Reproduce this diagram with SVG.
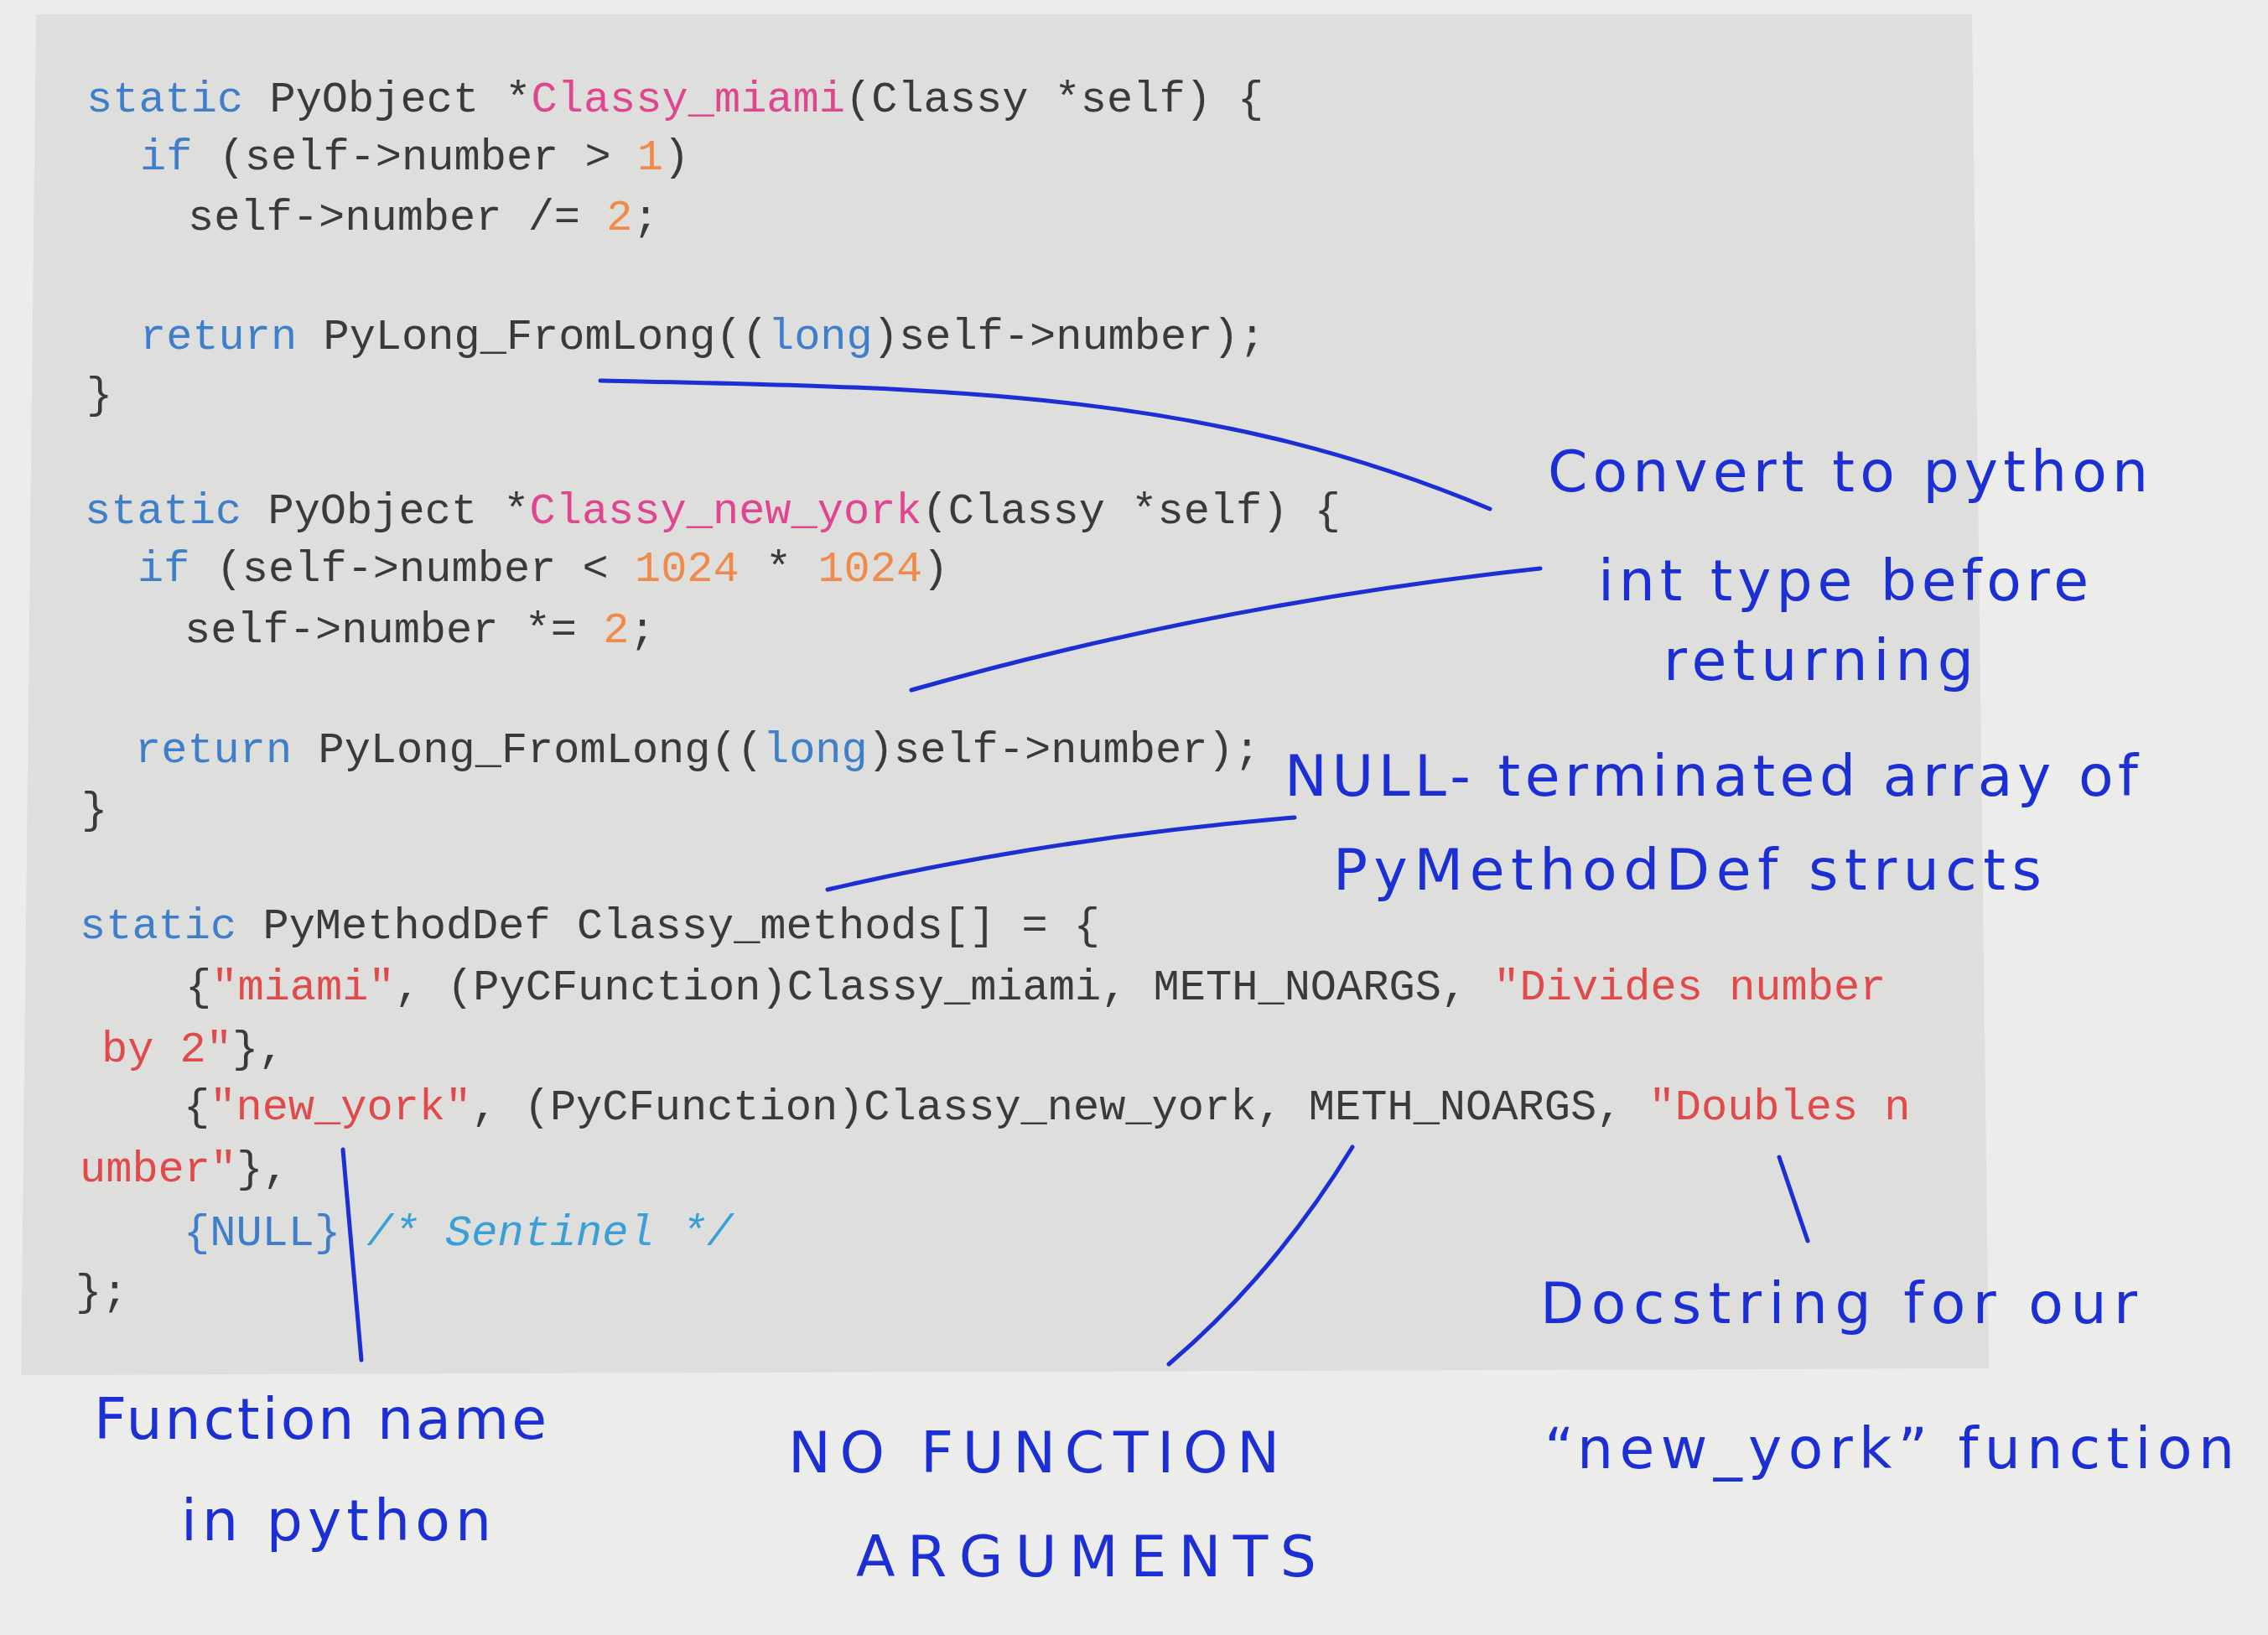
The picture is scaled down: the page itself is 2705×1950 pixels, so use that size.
<svg xmlns="http://www.w3.org/2000/svg" width="2705" height="1950" viewBox="0 0 2705 1950">
<style>
.c{font-family:"Liberation Mono","DejaVu Sans Mono",monospace;font-size:52px;fill:#3a3a3a}
.k{fill:#3f7fc9}.f{fill:#e0458f}.n{fill:#f08a4a}.s{fill:#e04a4a}.m{fill:#3a9fd6;font-style:italic}
.h{font-family:"DejaVu Sans","Liberation Sans",sans-serif;font-size:68px;fill:#1c2fd4}
.ink{fill:none;stroke:#1c2fd4;stroke-width:5;stroke-linecap:round}
</style>
<rect width="2705" height="1950" fill="#ececea"/>
<polygon points="43,17 2352,17 2372,1632 25,1640" fill="#dededd"/>
<g id="code">
<text class="c" x="103" y="133"><tspan class="k">static</tspan> PyObject *<tspan class="f">Classy_miami</tspan>(Classy *self) {</text>
<text class="c" x="167" y="202"><tspan class="k">if</tspan> (self-&gt;number &gt; <tspan class="n">1</tspan>)</text>
<text class="c" x="224" y="274">self-&gt;number /= <tspan class="n">2</tspan>;</text>
<text class="c" x="167" y="416"><tspan class="k">return</tspan> PyLong_FromLong((<tspan class="k">long</tspan>)self-&gt;number);</text>
<text class="c" x="103" y="486">}</text>
<text class="c" x="101" y="624"><tspan class="k">static</tspan> PyObject *<tspan class="f">Classy_new_york</tspan>(Classy *self) {</text>
<text class="c" x="164" y="693"><tspan class="k">if</tspan> (self-&gt;number &lt; <tspan class="n">1024</tspan> * <tspan class="n">1024</tspan>)</text>
<text class="c" x="220" y="766">self-&gt;number *= <tspan class="n">2</tspan>;</text>
<text class="c" x="161" y="909"><tspan class="k">return</tspan> PyLong_FromLong((<tspan class="k">long</tspan>)self-&gt;number);</text>
<text class="c" x="97" y="981">}</text>
<text class="c" x="95" y="1119"><tspan class="k">static</tspan> PyMethodDef Classy_methods[] = {</text>
<text class="c" x="221" y="1192">{<tspan class="s">"miami"</tspan>, (PyCFunction)Classy_miami, METH_NOARGS, <tspan class="s">"Divides number</tspan></text>
<text class="c s" x="121" y="1266">by 2"<tspan fill="#3a3a3a">},</tspan></text>
<text class="c" x="219" y="1335">{<tspan class="s">"new_york"</tspan>, (PyCFunction)Classy_new_york, METH_NOARGS, <tspan class="s">"Doubles n</tspan></text>
<text class="c s" x="95" y="1409">umber"<tspan fill="#3a3a3a">},</tspan></text>
<text class="c" x="219" y="1485"><tspan class="k">{NULL}</tspan> <tspan class="m">/* Sentinel */</tspan></text>
<text class="c" x="90" y="1556">};</text>
</g>
<g id="connectors">
<path class="ink" d="M716,454 C1150,462 1450,470 1777,607"/>
<path class="ink" d="M1087,823 Q1450,720 1837,678"/>
<path class="ink" d="M987,1061 Q1250,1000 1544,975"/>
<path class="ink" d="M409,1371 L431,1622"/>
<path class="ink" d="M1613,1368 Q1520,1520 1394,1627"/>
<path class="ink" d="M2122,1380 L2156,1480"/>
</g>
<g id="notes">
<text class="h" x="1846" y="586" textLength="716">Convert to python</text>
<text class="h" x="1906" y="716" textLength="585">int type before</text>
<text class="h" x="1984" y="811" textLength="370">returning</text>
<text class="h" x="1532" y="949" textLength="1018">NULL- terminated array of</text>
<text class="h" x="1590" y="1061" textLength="845">PyMethodDef structs</text>
<text class="h" x="1837" y="1578" textLength="712">Docstring for our</text>
<text class="h" x="1842" y="1751" textLength="823">“new_york” function</text>
<text class="h" x="112" y="1716" textLength="540">Function name</text>
<text class="h" x="216" y="1837" textLength="370">in python</text>
<text class="h" x="940" y="1756" textLength="586">NO FUNCTION</text>
<text class="h" x="1021" y="1880" textLength="549">ARGUMENTS</text>
</g>
</svg>
